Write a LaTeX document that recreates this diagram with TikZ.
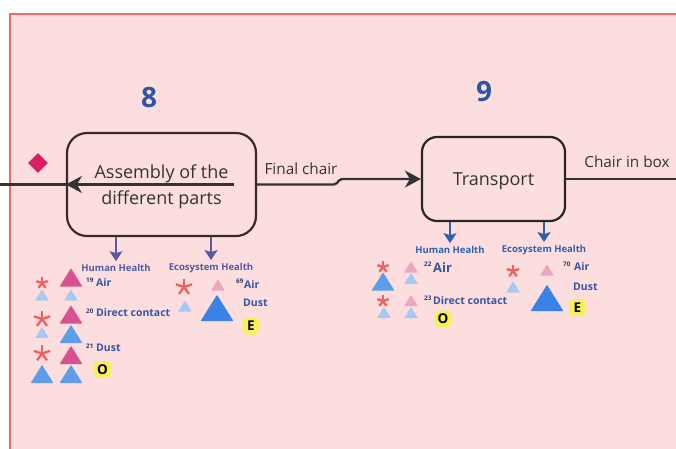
\documentclass[tikz,border=0pt]{standalone}
\usepackage{fontspec}
\setmainfont{Open Sans}
\usetikzlibrary{arrows.meta,shapes.geometric}

\definecolor{pinkbg}{HTML}{FDDEDE}
\definecolor{framered}{HTML}{F26A6A}
\definecolor{boxbrown}{HTML}{3B2A2A}
\definecolor{boxblack}{HTML}{262626}
\definecolor{linegray}{HTML}{333333}
\definecolor{diamondpink}{HTML}{DB1E62}
\definecolor{numblue}{HTML}{2F56A6}
\definecolor{itemblue}{HTML}{3555A5}
\definecolor{supnavy}{HTML}{2B3A6B}
\definecolor{hhpurple}{HTML}{5257A6}
\definecolor{arrpurple}{HTML}{5A5AA0}
\definecolor{arrblue}{HTML}{2F5FB0}
\definecolor{astcol}{HTML}{F25E5E}
\definecolor{magtri}{HTML}{D9508E}
\definecolor{lpink}{HTML}{ECA6C0}
\definecolor{lblue}{HTML}{A8C9F2}
\definecolor{mblue}{HTML}{5D9CE9}
\definecolor{bblue}{HTML}{3A82E6}
\definecolor{hlyellow}{HTML}{F8F153}

% lower a line of text without changing its box
\newcommand\lowerline[1]{\raisebox{-2pt}[\height][\depth]{#1}}

\begin{document}
\begin{tikzpicture}[x=1pt,y=-1pt,
  stepnum/.style={font=\bfseries\fontsize{28}{30}\selectfont, text=numblue, inner sep=0},
  procbox/.style={line width=2.2, align=center, inner sep=0, text=linegray,
    font=\fontsize{18}{26}\selectfont},
  flowline/.style={draw=linegray, line width=2.3},
  flowtip/.style={-{Stealth[length=16,width=17,inset=5]}},
  edgelabel/.style={font=\fontsize{15.3}{17}\selectfont, text=linegray, inner sep=0},
  hhlabel/.style={font=\bfseries\fontsize{9.5}{11}\selectfont, inner sep=1},
  impact/.style={line width=1.2, -{Stealth[length=10,width=13,inset=2]}, shorten >=2},
  item/.style={font=\bfseries\fontsize{10.5}{12}\selectfont, text=itemblue, anchor=west, inner sep=0},
  bigitem/.style={item, font=\bfseries\fontsize{13}{14}\selectfont},
  sup/.style={font=\bfseries\fontsize{6.3}{7}\selectfont, text=supnavy, anchor=west, inner sep=0},
  hlbox/.style={fill=hlyellow, rounded corners=5, minimum width=17, minimum height=17,
    inner sep=0, font=\bfseries\fontsize{13.5}{14}\selectfont, text=black},
  pics/astr/.style={code={
    \foreach \a in {-90,-18,-162,-234,-306}
      \draw[astcol, line width=2.3] (0,0) -- (\a:#1);}},
  pics/tri/.style 2 args={code={
    \fill[#2, rounded corners=0.8] (-#1/2,0.4*#1) -- (#1/2,0.4*#1) -- (0,-0.4*#1) -- cycle;}}
]
\useasboundingbox (0,0) rectangle (676,448);
\clip (0,0) rectangle (676,448);
\fill[white] (0,0) rectangle (676,448);

% swimlane panel
\draw[draw=framered, fill=pinkbg, line width=2] (10,14) rectangle (700,470);

% step numbers
\node[stepnum] (n8) at (149,98) {8};
\node[stepnum] (n9) at (484,92) {9};

% process boxes
\node[procbox, draw=boxbrown, minimum width=189, minimum height=103, rounded corners=20]
  (p8) at (161.5,184.5) {\lowerline{Assembly of the}\\\lowerline{different parts}};
\node[procbox, draw=boxblack, minimum width=143, minimum height=84, rounded corners=15]
  (p9) at (493.5,179) {\lowerline{Transport}};

% marker
\node[diamond, fill=diamondpink, minimum width=20, minimum height=20, inner sep=0] (dm) at (38,163) {};

% flow connectors
\coordinate (lin) at (234,184.5);
\coordinate (lout) at (0,184.5);
\draw[flowline, flowtip] (lin) -- (p8.west);
\draw[flowline] (p8.west) -- (lout);

\draw[flowline, flowtip, rounded corners=2] (p8.east) -- (336,184.5) -- (340,179) -- (p9.west);
\node[edgelabel] (fc) at (301,169) {Final chair};

\coordinate (rout) at (676,179);
\draw[flowline] (p9.east) -- (rout);
\node[edgelabel] (cb) at (627,162) {Chair in box};

% impact category headers
\node[hhlabel, text=hhpurple] (hh8) at (116,268) {Human Health};
\node[hhlabel, text=hhpurple] (eh8) at (211,268) {Ecosystem Health};
\node[hhlabel, text=arrblue] (hh9) at (450,250) {Human Health};
\node[hhlabel, text=arrblue] (eh9) at (544,250) {Ecosystem Health};

\draw[impact, arrpurple] (p8.south -| hh8) -- (hh8.north);
\draw[impact, arrpurple] (p8.south -| eh8) -- (eh8.north);
\draw[impact, arrblue] (p9.south -| hh9) -- (hh9.north);
\draw[impact, arrblue] (p9.south -| eh9) -- (eh9.north);

% step 8 -- human health
\pic at (42,283) {astr=6};
\pic at (42,295) {tri={14}{lblue}};
\pic at (71,277.5) {tri={23}{magtri}};
\pic at (71,295) {tri={14}{lblue}};
\node[sup] (s19) at (86,280) {19};
\node[item] (i19) at (96,283) {Air};

\pic at (42,319) {astr=8.5};
\pic at (42,332.5) {tri={14}{lblue}};
\pic at (71,314.5) {tri={23}{magtri}};
\pic at (71,334) {tri={23}{mblue}};
\node[sup] (s20) at (86,311) {20};
\node[item] (i20) at (96,313) {Direct contact};

\pic at (42,353.5) {astr=8.5};
\pic at (71,355) {tri={23}{magtri}};
\pic at (42,374) {tri={23}{mblue}};
\pic at (71,374) {tri={23}{mblue}};
\node[sup] (s21) at (86,346) {21};
\node[item] (i21) at (96,348) {Dust};
\node[hlbox] (o8) at (102.5,369.5) {O};

% step 8 -- ecosystem health
\pic at (184,287) {astr=8.5};
\pic at (185,306) {tri={14}{lblue}};
\pic at (218,285) {tri={14}{lpink}};
\pic at (217,308) {tri={33}{bblue}};
\node[sup] (s69) at (236,281) {69};
\node[item] (i69) at (244,284.5) {Air};
\node[item] (i69d) at (243,303) {Dust};
\node[hlbox] (e8) at (251,326) {E};

% step 9 -- human health
\pic at (383,267) {astr=6};
\pic at (383,281.5) {tri={23}{mblue}};
\pic at (411,267) {tri={14}{lpink}};
\pic at (411,278.5) {tri={14}{lblue}};
\node[sup] (s22) at (424,264) {22};
\node[bigitem] (i22) at (433,268) {Air};

\pic at (383,301) {astr=6};
\pic at (384,312.5) {tri={14}{lblue}};
\pic at (411,300.5) {tri={14}{lpink}};
\pic at (411,312.5) {tri={14}{lblue}};
\node[sup] (s23) at (424,298) {23};
\node[item] (i23) at (433,301) {Direct contact};
\node[hlbox] (o9) at (443,319) {O};

% step 9 -- ecosystem health
\pic at (513,271) {astr=6.5};
\pic at (513,287) {tri={14}{lblue}};
\pic at (547,270) {tri={14}{lpink}};
\pic at (547,298) {tri={33}{bblue}};
\node[sup] (s70) at (563,264) {70};
\node[item] (i70) at (574,267) {Air};
\node[item] (i70d) at (573,287) {Dust};
\node[hlbox] (e9) at (577.5,307.5) {E};
\end{tikzpicture}
\end{document}
